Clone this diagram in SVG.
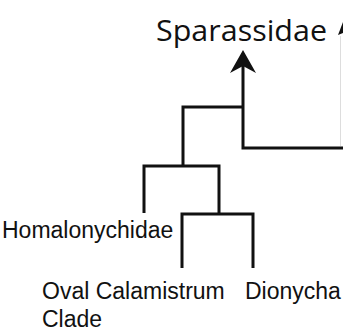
<svg xmlns="http://www.w3.org/2000/svg" width="343" height="336" viewBox="0 0 343 336">
<style>
.br{fill:none;stroke:#111;stroke-width:3;stroke-linejoin:miter;stroke-linecap:butt}
.lbl{font-family:"Liberation Sans",Arial,sans-serif;font-size:23px;fill:#111}
.top{font-family:"Open Sans","Noto Sans",sans-serif;font-size:29px;fill:#111}
</style>
<rect width="343" height="336" fill="#fff"/>
<g id="connectors">
<path class="br" d="M243,66 V148 H343"/>
<path class="br" d="M243,107 H183 V166"/>
<path class="br" d="M144,213 V166 H219 V214"/>
<path class="br" d="M182,268 V214 H253 V268"/>
<polygon points="243,50 256,73 243,66 230,73" fill="#111"/>
<polygon points="338,35 343,22 343,33" fill="#111"/>
<line x1="340.5" y1="36" x2="340.5" y2="146" stroke="#ddd" stroke-width="1"/>
</g>
<g id="sparassidae"><text class="top" x="156" y="41" textLength="171" lengthAdjust="spacingAndGlyphs">Sparassidae</text></g>
<g id="homalonychidae"><text class="lbl" x="2" y="238">Homalonychidae</text></g>
<g id="oval-calamistrum"><text class="lbl" x="42" y="299">Oval Calamistrum</text><text class="lbl" x="42" y="327">Clade</text></g>
<g id="dionycha"><text class="lbl" x="245" y="299">Dionycha</text></g>
</svg>
